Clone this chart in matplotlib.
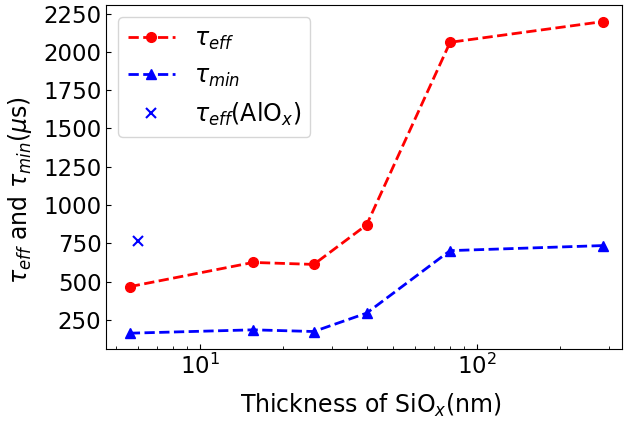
import matplotlib
matplotlib.use("Agg")
import matplotlib.pyplot as plt

thickness = [5.6, 15.6, 25.8, 40, 80, 284]
tau_eff = [467, 625, 612, 870, 2062, 2197]
tau_min = [163, 185, 174, 294, 702, 735]
alox_thickness = [6.0]
alox_tau_eff = [766]

fig, ax = plt.subplots(figsize=(6.33, 4.23), dpi=100)

ax.plot(thickness, tau_eff, "r--", marker="o", markersize=7, linewidth=2,
        label=r"$\tau_{eff}$")
ax.plot(thickness, tau_min, "b--", marker="^", markersize=7, linewidth=2,
        label=r"$\tau_{min}$")
ax.plot(alox_thickness, alox_tau_eff, "bx", markersize=7, markeredgewidth=1.5,
        linestyle="none", label=r"$\tau_{eff}$(AlO$_x$)")

ax.set_xscale("log")
ax.set_xlim(4.61, 334)
ax.set_ylim(60, 2305)
ax.set_yticks([250, 500, 750, 1000, 1250, 1500, 1750, 2000, 2250])
ax.tick_params(direction="in", labelsize=16.5, which="both")
ax.tick_params(which="major", length=3.5)
ax.tick_params(which="minor", length=2)
ax.set_xlabel(r"Thickness of SiO$_x$(nm)", fontsize=17)
ax.set_ylabel(r"$\tau_{eff}$ and $\tau_{min}$($\mu$s)", fontsize=17)
ax.xaxis.set_label_coords(0.513, -0.125)
ax.yaxis.set_label_coords(-0.14, 0.462)
ax.legend(loc="upper left", fontsize=17)

plt.subplots_adjust(left=0.168, right=0.983, top=0.988, bottom=0.175)
plt.savefig("out.png", dpi=100)
